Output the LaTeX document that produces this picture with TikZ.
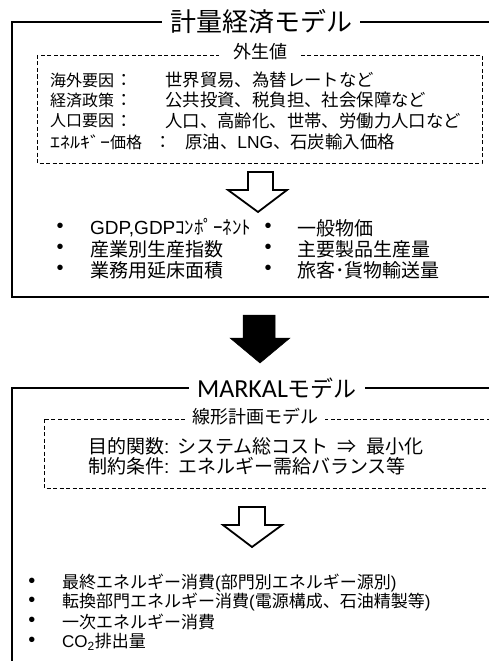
\documentclass[tikz,border=0pt]{standalone}
\usepackage{graphicx}
\usepackage{fontspec}
\setmainfont{Noto Sans CJK JP}
\newfontfamily\arialf{Liberation Sans}
\newfontfamily\calf{Carlito}
\begin{document}
\begin{tikzpicture}[x=1pt,y=-1pt,
  outer/.style={line width=2.6pt},
  dbox/.style={line width=0.9pt, dash pattern=on 4pt off 2.5pt},
  ttl/.style={fill=white, inner xsep=8pt, inner ysep=2pt, font=\fontsize{26}{28}\selectfont},
  sttl/.style={fill=white, inner xsep=7pt, inner ysep=1pt, font=\fontsize{18}{20}\selectfont},
  body/.style={anchor=west, inner sep=0pt, font=\fontsize{17.4}{19}\selectfont},
  lbl/.style={anchor=west, inner sep=0pt, font=\fontsize{16}{19}\selectfont},
  bigbody/.style={anchor=west, inner sep=0pt, font=\fontsize{19}{20}\selectfont},
  colon/.style={inner sep=0pt, font=\fontsize{17.4}{19}\selectfont},
  bul/.style={inner sep=0pt, font=\fontsize{20}{20}\arialf},
  hollow/.style={draw, line width=1.8pt, fill=white, line join=miter},
  solid/.style={draw, line width=0.5pt, fill=black}
]
\useasboundingbox (0,0) rectangle (489,661);
\clip (0,0) rectangle (489,661);

% ===== top box =====
\draw[outer] (12,22) rectangle (520,297);
\node[ttl] (t1) at (261,22) {計量経済モデル};
\draw[dbox] (37,55) rectangle (482,163);
\node[sttl, inner xsep=14pt] (s1) at (260,52) {外生値};

\node[lbl] (a1) at (50,80) {海外要因};
\node[colon] (c1) at (124,80) {：};
\node[body] (v1) at (165,80) {世界貿易、為替レートなど};
\node[lbl] (a2) at (50,100) {経済政策};
\node[colon] (c2) at (124,100) {：};
\node[body] (v2) at (165,100) {公共投資、税負担、社会保障など};
\node[lbl] (a3) at (50,121) {人口要因};
\node[colon] (c3) at (124,121) {：};
\node[body] (v3) at (165,121) {人口、高齢化、世帯、労働力人口など};
\node[lbl] (a4) at (50,142) {\scalebox{1.25}[1]{ｴﾈﾙｷﾞｰ}価格};
\node[colon] (c4) at (163,142) {：};
\node[body] (v4) at (185,142) {原油、{\arialf LNG}、石炭輸入価格};

\draw[hollow] (248,172) -- (273,172) -- (273,190) -- (287,190) -- (258,212)
  -- (228,190) -- (248,190) -- cycle;

\node[bul] (b1) at (60,228) {•};
\node[bigbody] (o1) at (90,228) {{\arialf GDP,GDP}ｺﾝﾎﾟｰﾈﾝﾄ};
\node[bul] (b2) at (60,249) {•};
\node[bigbody] (o2) at (90,249) {産業別生産指数};
\node[bul] (b3) at (60,270) {•};
\node[bigbody] (o3) at (90,270) {業務用延床面積};
\node[bul] (b4) at (268,228) {•};
\node[bigbody] (o4) at (297,228) {一般物価};
\node[bul] (b5) at (268,249) {•};
\node[bigbody] (o5) at (297,249) {主要製品生産量};
\node[bul] (b6) at (268,270) {•};
\node[bigbody] (o6) at (297,270) {旅客･貨物輸送量};

% ===== black arrow =====
\draw[solid] (243,315) -- (275,315) -- (275,338) -- (290,338) -- (260,363)
  -- (230,338) -- (243,338) -- cycle;

% ===== bottom box =====
\draw[outer] (12,388) rectangle (520,700);
\node[ttl, font=\fontsize{23}{26}\selectfont] (t2) at (277,388) {{\calf\fontsize{26}{28}\selectfont MARKAL}モデル};
\draw[dbox] (44,419) rectangle (520,488);
\node[sttl] (s2) at (255,417) {線形計画モデル};

\node[bigbody] (m1) at (88,446) {目的関数{\arialf :}\hspace{0.4em}システム総コスト\hspace{0.5em}⇒\hspace{0.5em}最小化};
\node[bigbody] (m2) at (88,466) {制約条件{\arialf :}\hspace{0.45em}エネルギー需給バランス等};

\draw[hollow] (239,507) -- (265,507) -- (265,525) -- (282,525) -- (252,547)
  -- (223,525) -- (239,525) -- cycle;

\node[bul] (d1) at (32,583) {•};
\node[body, font=\fontsize{17}{19}\selectfont] (e1) at (62,583) {最終エネルギー消費{\arialf (}部門別エネルギー源別{\arialf )}};
\node[bul] (d2) at (32,602) {•};
\node[body, font=\fontsize{17}{19}\selectfont] (e2) at (62,602) {転換部門エネルギー消費{\arialf (}電源構成、石油精製等{\arialf )}};
\node[bul] (d3) at (32,622) {•};
\node[body, font=\fontsize{17}{19}\selectfont] (e3) at (62,622) {一次エネルギー消費};
\node[bul] (d4) at (32,642) {•};
\node[body, font=\fontsize{17}{19}\selectfont] (e4) at (62,642) {{\arialf CO\textsubscript{2}}排出量};
\end{tikzpicture}
\end{document}
